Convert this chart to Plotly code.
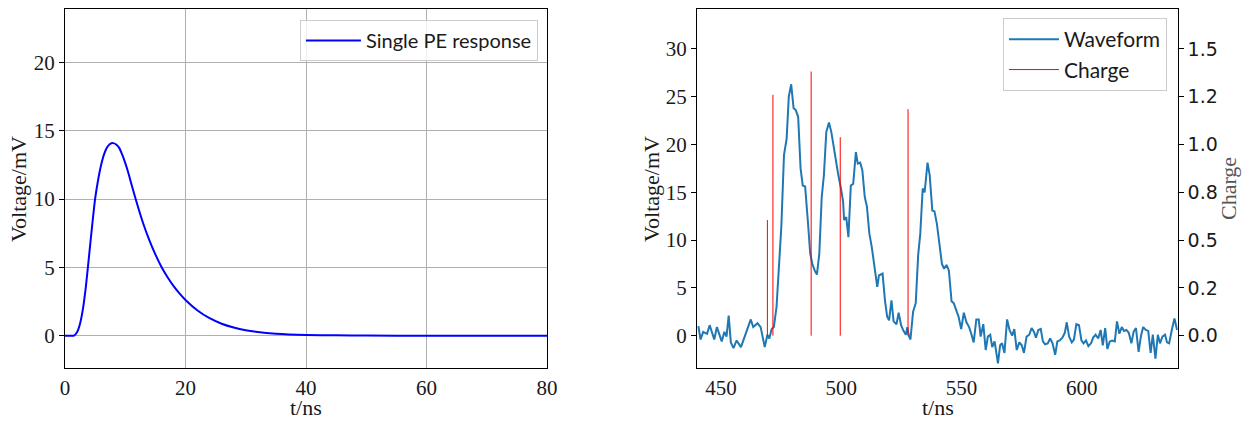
import plotly.graph_objects as go

# ---- Left panel: single photo-electron response ----
spe_t = [0, 1, 1.5, 2, 2.5, 3, 3.5, 4, 4.5, 5, 5.5, 6, 6.5, 7, 7.5, 8, 8.5, 9, 9.5,
         10, 10.5, 11, 12, 13, 14, 15, 16, 17, 18, 19, 20, 22, 24, 26, 28, 30, 32,
         35, 40, 45, 50, 60, 70, 80]
spe_v = [0, 0, 0.01, 0.25, 0.88, 2.0, 3.7, 5.85, 8.0, 10.0, 11.4, 12.5, 13.3, 13.8,
         14.05, 14.1, 14.0, 13.75, 13.25, 12.65, 11.95, 11.15, 9.6, 8.2, 7.0, 5.95, 5.05,
         4.3, 3.65, 3.1, 2.62, 1.85, 1.28, 0.88, 0.6, 0.4, 0.27, 0.15, 0.06, 0.03,
         0.01, 0, 0, 0]

# ---- Right panel: waveform ----
wave_t = [440.6, 441.5, 442.6, 444.2, 445.3, 447.2, 448.3, 450.3, 451.4, 452.3, 453.2,
          454.1, 455.2, 456.5, 458.3, 460.3, 461.3, 462.4, 463.4, 465.2, 466.5, 468.2,
          469.3, 470.1, 471.1, 472.0, 473.1, 474.1, 475.1, 476.2, 477.3, 478.2, 479.2,
          480.2, 481.1, 482.1, 483.1, 484.0, 485.0, 486.1, 487.1, 488.0, 489.0, 489.9,
          490.9, 491.9, 492.8, 493.8, 494.9, 495.9, 496.8, 497.8, 498.8, 499.9, 500.8,
          501.2, 502.1, 503.0, 504.0, 505.0, 506.1, 506.9, 507.9, 508.8, 509.8, 510.7,
          511.7, 512.7, 513.6, 515.0, 515.7, 517.2, 518.2, 519.1, 519.9, 520.9, 521.8,
          523.0, 523.9, 524.9, 525.9, 526.9, 527.5, 528.1, 528.8, 529.9, 531.0, 532.0,
          532.9, 533.9, 534.7, 535.9, 536.8, 537.9, 538.8, 539.8, 540.9, 541.9, 542.8,
          543.8, 544.8, 545.9, 546.8, 547.8, 548.8, 549.9, 551.0, 552.1, 553.2, 554.1,
          555.1, 556.2, 557.2, 558.0, 559.1, 560.1, 561.0, 562.0, 562.8, 563.8, 565.2,
          566.1, 566.9, 567.9, 569.0, 570.0, 571.1, 572.0, 573.0, 574.1, 575.1, 576.0,
          577.1, 578.2, 579.2, 580.2, 581.0, 582.0, 583.0, 583.9, 584.8, 585.9, 586.9,
          587.9, 589.0, 589.9, 590.9, 592.0, 593.0, 593.8, 594.8, 595.9, 596.8, 597.8,
          598.9, 599.9, 600.8, 601.8, 602.8, 603.9, 604.8, 605.8, 606.9, 607.9, 608.8,
          609.8, 610.7, 611.7, 612.7, 613.8, 614.7, 615.7, 616.7, 617.6, 618.6, 619.6,
          620.7, 621.6, 622.6, 623.7, 624.7, 625.6, 626.7, 627.7, 628.7, 629.6, 630.7,
          631.7, 632.6, 633.6, 634.7, 635.5, 636.4, 637.5, 638.6, 639.7]
wave_v = [1.0, -0.4, 0.4, 0.2, 1.1, -0.4, 0.9, -0.6, 0.4, -0.1, 2.1,
          -0.7, -1.3, -0.5, -1.2, 0.2, 0.7, 1.7, 0.9, 1.3, 0.9, -1.2,
          0.1, -0.3, 0.7, 0.9, 3.0, 7.2, 11.4, 18.9, 20.6, 25.0, 26.3,
          23.8, 23.6, 22.9, 17.5, 15.7, 15.6, 12.1, 8.6, 7.5, 6.8, 6.4,
          8.6, 14.5, 16.8, 21.3, 22.3, 21.3, 19.8, 18.2, 16.8, 15.4, 14.0,
          12.1, 12.4, 10.3, 15.7, 15.9, 19.2, 18.0, 18.1, 17.3, 14.5, 13.5,
          10.7, 9.3, 7.7, 5.1, 6.3, 6.5, 3.7, 2.0, 1.6, 3.7, 1.5,
          1.2, 2.4, 1.1, 0.5, 0.1, 0.9, 0.0, -0.4, 2.5, 3.4, 8.4,
          10.7, 15.4, 15.0, 18.1, 16.8, 13.1, 13.0, 11.7, 9.5, 7.5, 7.0,
          7.4, 6.8, 3.6, 3.4, 2.8, 2.0, 0.7, 2.4, 1.4, 0.9, 0.2,
          -0.7, 1.7, 1.7, -0.1, 1.2, -1.5, -0.1, 0.1, -1.2, -0.6, -2.9,
          -1.0, -0.8, -1.8, 1.7, 0.6, 0.0, 0.7, -1.5, -0.7, -1.0, -1.8,
          -0.1, 0.1, 0.8, 0.4, -0.2, 0.6, 0.7, -0.6, -0.9, -0.8, -0.3,
          -0.8, -2.0, -0.6, -0.5, -0.2, 0.3, 1.4, -0.1, -0.7, -0.4, 1.2,
          1.1, -0.5, -0.8, -0.5, -1.1, -0.8, -0.2, 0.1, -0.3, 0.6, -1.0,
          0.8, -1.4, -0.6, -0.5, -0.6, 1.5, 0.2, 0.9, 0.5, 0.6, 0.3,
          -0.8, 0.4, 0.8, -1.7, 0.0, 0.9, 0.6, 0.5, -1.8, 0.1, -2.4,
          0.1, -0.8, -0.1, 0.1, -0.7, -0.8, 0.6, 1.8, 0.6]

charge_t = [469.3, 471.6, 487.5, 499.6, 527.8]
charge_q = [0.605, 1.26, 1.382, 1.038, 1.185]

left_xticks = [0, 20, 40, 60, 80]
left_yticks = [0, 5, 10, 15, 20]
right_xticks = [450, 500, 550, 600]
right_yticks = [0, 5, 10, 15, 20, 25, 30]
charge_ticks = [0, 0.25, 0.5, 0.75, 1.0, 1.25, 1.5]
charge_labels = ["0.0", "0.2", "0.5", "0.8", "1.0", "1.2", "1.5"]

# stems for the charge (vertical lines from 0 to q)
stem_x, stem_y = [], []
for t, q in zip(charge_t, charge_q):
    stem_x += [t, t, None]
    stem_y += [0, q, None]

SERIF = "Liberation Serif"
SANS = "DejaVu Sans"
TXT = "#1a1a1a"
W, H = 1249, 421

fig = go.Figure()
fig.add_trace(go.Scatter(x=spe_t, y=spe_v, mode="lines", name="Single PE response",
                         line=dict(color="#0000ff", width=2, shape="spline", smoothing=0.6),
                         xaxis="x", yaxis="y", legend="legend"))
fig.add_trace(go.Scatter(x=wave_t, y=wave_v, mode="lines", name="Waveform",
                         line=dict(color="#1f77b4", width=2),
                         xaxis="x2", yaxis="y2", legend="legend2"))
fig.add_trace(go.Scatter(x=stem_x, y=stem_y, mode="lines", name="Charge",
                         line=dict(color="#ff0000", width=1),
                         xaxis="x2", yaxis="y3", legend="legend2"))

ax = dict(showline=True, linecolor="black", linewidth=1, mirror=True,
          ticks="outside", ticklen=5, tickwidth=1, tickcolor="black",
          tickfont=dict(family=SERIF, size=21, color=TXT), zeroline=False,
          automargin=False)
# x axes: labels sit close to the axis line; tick marks come from overlay axes
axx = dict(ax, ticks="")
tickonly = dict(ticks="outside", ticklen=5, tickwidth=1, tickcolor="black",
                showticklabels=False, showline=False, showgrid=False, zeroline=False,
                automargin=False)
ydom = [0.125, 0.978]
TFONT = dict(family=SERIF, size=22, color=TXT)

# axis titles placed as annotations (pixel positions -> paper fractions)
titles = [
    dict(text="t/ns", x=306 / W, y=0, yanchor="bottom", textangle=0, font=TFONT),
    dict(text="t/ns", x=938 / W, y=0, yanchor="bottom", textangle=0, font=TFONT),
    dict(text="Voltage/mV", x=19 / W, y=1 - 189 / H, yanchor="middle", textangle=-90, font=TFONT),
    dict(text="Voltage/mV", x=652 / W, y=1 - 189 / H, yanchor="middle", textangle=-90, font=TFONT),
    dict(text="Charge", x=1229 / W, y=1 - 189 / H, yanchor="middle", textangle=-90,
         font=dict(family=SERIF, size=22, color="#555555")),
]
annotations = [dict(xref="paper", yref="paper", xanchor="center",
                    showarrow=False, borderpad=0, **t) for t in titles]

fig.update_layout(
    width=W, height=H,
    margin=dict(l=0, r=0, t=0, b=0, autoexpand=False),
    paper_bgcolor="white", plot_bgcolor="white",
    annotations=annotations,
    xaxis=dict(**axx, domain=[0.052, 0.438], range=[0, 80], tickvals=left_xticks,
               showgrid=True, gridcolor="#b0b0b0", gridwidth=1, anchor="y"),
    xaxis3=dict(**tickonly, overlaying="x", anchor="y", range=[0, 80], tickvals=left_xticks),
    yaxis=dict(**ax, domain=ydom, range=[-2.39, 23.9], tickvals=left_yticks,
               showgrid=True, gridcolor="#b0b0b0", gridwidth=1, anchor="x"),
    xaxis2=dict(**axx, domain=[0.558, 0.943], range=[440, 640], tickvals=right_xticks,
                showgrid=False, anchor="y2"),
    xaxis4=dict(**tickonly, overlaying="x2", anchor="y2", range=[440, 640], tickvals=right_xticks),
    yaxis2=dict(**ax, domain=ydom, range=[-3.42, 34.15], tickvals=right_yticks,
                showgrid=False, anchor="x2"),
    yaxis3=dict(overlaying="y2", side="right", anchor="x2", range=[-0.171, 1.7075],
                tickvals=charge_ticks, ticktext=charge_labels,
                ticks="outside", ticklen=5, tickwidth=1, tickcolor="black",
                tickfont=dict(family=SANS, size=19, color=TXT),
                showgrid=False, zeroline=False, showline=False, automargin=False),
    legend=dict(x=0.4307, y=0.9525, xanchor="right", yanchor="top", itemwidth=55,
                bgcolor="rgba(255,255,255,0.8)", bordercolor="#cccccc", borderwidth=1,
                font=dict(family="Lato", size=20, color=TXT)),
    legend2=dict(x=0.9343, y=0.957, xanchor="right", yanchor="top", itemwidth=50,
                 bgcolor="rgba(255,255,255,0.8)", bordercolor="#cccccc", borderwidth=1,
                 font=dict(family="Lato", size=21, color=TXT)),
    showlegend=True,
)

fig.write_html("out.html")
